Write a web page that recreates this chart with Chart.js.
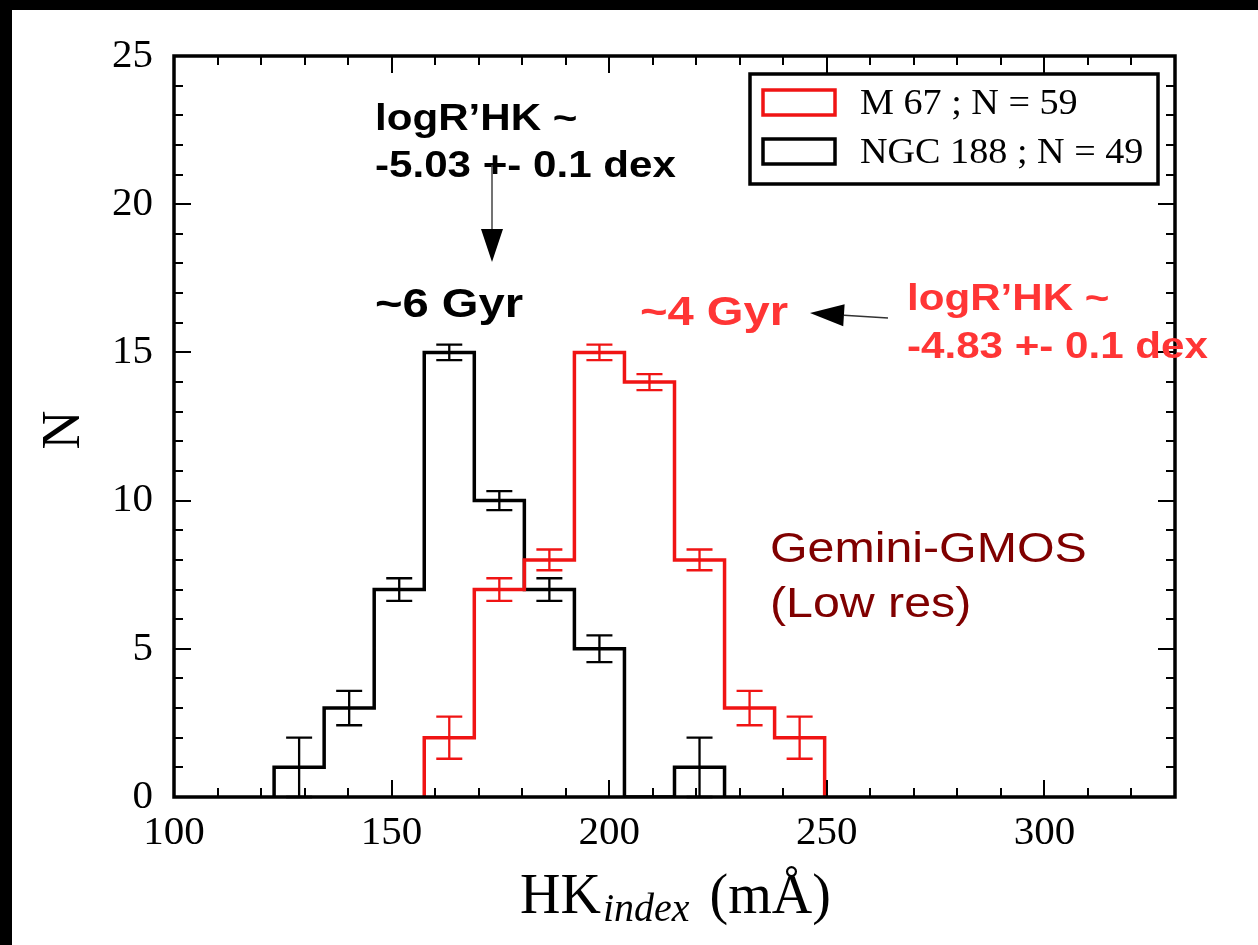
<!DOCTYPE html>
<html>
<head>
<meta charset="utf-8">
<script src="https://cdn.jsdelivr.net/npm/chart.js@4.4.1/dist/chart.umd.min.js"></script>
<style>
  html, body { margin: 0; padding: 0; background: #000; width: 1258px; height: 945px; overflow: hidden; }
  #panel { position: absolute; left: 12px; top: 10px; width: 1246px; height: 935px; background: #fff; }
  canvas { display: block; }
</style>
</head>
<body>
<div id="panel"><canvas id="hk" width="1246" height="935"></canvas></div>
<script>
// HK index histogram bins (mÅ): shared bin edges
const binEdges = [123.0, 134.5, 146.0, 157.5, 169.0, 180.5, 192.0, 203.5, 215.0, 226.5, 238.0, 249.5];

// M 67 : bins start at binEdges[3]
const m67Label = 'M 67 ; N = 59';
const m67FirstBin = 3;
const m67Counts = [2, 7, 8, 15, 14, 8, 3, 2];
const m67Errors = [0.71, 0.38, 0.35, 0.26, 0.27, 0.35, 0.58, 0.71];

// NGC 188 : bins start at binEdges[0]
const ngcLabel = 'NGC 188 ; N = 49';
const ngcFirstBin = 0;
const ngcCounts = [1, 3, 7, 15, 10, 7, 5, 0, 1];
const ngcErrors = [1.0, 0.58, 0.38, 0.26, 0.32, 0.38, 0.45, 0, 1.0];

// axes
const xMin = 100, xMax = 330;
const yMin = 0, yMax = 25;
const xTickValues = [100, 150, 200, 250, 300];
const yTickValues = [0, 5, 10, 15, 20, 25];

const RED = '#f01414';
const NOTE_RED = '#ff3535';
const DARK_RED = '#800000';
const SERIF = '"Liberation Serif", "Times New Roman", serif';
const SANS = '"Liberation Sans", Arial, sans-serif';

// outline of a histogram: rises at the first edge, steps across every bin, drops at the last edge
function histOutline(edges, counts) {
  const pts = [{ x: edges[0], y: 0 }];
  counts.forEach((c, i) => {
    pts.push({ x: edges[i], y: c });
    pts.push({ x: edges[i + 1], y: c });
  });
  pts.push({ x: edges[counts.length], y: 0 });
  return pts;
}

const m67Edges = binEdges.slice(m67FirstBin, m67FirstBin + m67Counts.length + 1);
const ngcEdges = binEdges.slice(ngcFirstBin, ngcFirstBin + ngcCounts.length + 1);

// Poisson-style error bars at bin centres
const errorBars = {
  id: 'errorBars',
  afterDatasetsDraw(chart) {
    const { ctx, scales: { x, y } } = chart;
    chart.data.datasets.forEach(ds => {
      const e = ds.binInfo;
      ctx.save();
      ctx.strokeStyle = ds.borderColor;
      ctx.lineWidth = 2.3;
      e.counts.forEach((c, i) => {
        if (!c || !e.errors[i]) return;
        const cx = x.getPixelForValue((e.edges[i] + e.edges[i + 1]) / 2);
        const y1 = y.getPixelForValue(c - e.errors[i]);
        const y2 = y.getPixelForValue(c + e.errors[i]);
        const hw = 13;
        ctx.beginPath();
        ctx.moveTo(cx, y1); ctx.lineTo(cx, y2);
        ctx.moveTo(cx - hw, y1); ctx.lineTo(cx + hw, y1);
        ctx.moveTo(cx - hw, y2); ctx.lineTo(cx + hw, y2);
        ctx.stroke();
      });
      ctx.restore();
    });
  }
};

// boxed frame with inward major/minor ticks on all four sides
const frame = {
  id: 'frame',
  afterDatasetsDraw(chart) {
    const { ctx, chartArea: a, scales: { x, y } } = chart;
    ctx.save();
    ctx.strokeStyle = '#000';
    ctx.lineWidth = 2;
    ctx.beginPath();
    for (let v = xMin; v <= xMax; v += 10) {
      const px = Math.round(x.getPixelForValue(v));
      const len = v % 50 === 0 ? 17 : 9;
      ctx.moveTo(px, a.bottom); ctx.lineTo(px, a.bottom - len);
      ctx.moveTo(px, a.top); ctx.lineTo(px, a.top + len);
    }
    for (let v = yMin; v <= yMax; v += 1) {
      const py = Math.round(y.getPixelForValue(v));
      const len = v % 5 === 0 ? 17 : 9;
      ctx.moveTo(a.left, py); ctx.lineTo(a.left + len, py);
      ctx.moveTo(a.right, py); ctx.lineTo(a.right - len, py);
    }
    ctx.stroke();
    ctx.lineWidth = 3.5;
    ctx.strokeRect(a.left, a.top, a.right - a.left, a.bottom - a.top);
    ctx.restore();
  }
};

function wideText(ctx, text, x, y, font, color, sx) {
  ctx.save();
  ctx.font = font;
  ctx.fillStyle = color;
  ctx.textBaseline = 'alphabetic';
  ctx.textAlign = 'left';
  ctx.translate(x, y);
  ctx.scale(sx, 1);
  ctx.fillText(text, 0, 0);
  ctx.restore();
}

function arrow(ctx, x1, y1, x2, y2, headLen, headW, color, lw) {
  const ang = Math.atan2(y2 - y1, x2 - x1);
  const bx = x2 - headLen * Math.cos(ang), by = y2 - headLen * Math.sin(ang);
  ctx.save();
  ctx.strokeStyle = color;
  ctx.fillStyle = '#000';
  ctx.lineWidth = lw;
  ctx.beginPath();
  ctx.moveTo(x1, y1); ctx.lineTo(bx, by);
  ctx.stroke();
  const nx = -Math.sin(ang) * headW / 2, ny = Math.cos(ang) * headW / 2;
  ctx.beginPath();
  ctx.moveTo(x2, y2);
  ctx.lineTo(bx + nx, by + ny);
  ctx.lineTo(bx - nx, by - ny);
  ctx.closePath();
  ctx.fill();
  ctx.restore();
}

// legend, axis titles and annotations
const decorations = {
  id: 'decorations',
  afterDraw(chart) {
    const { ctx } = chart;

    // legend box
    ctx.save();
    ctx.fillStyle = '#fff';
    ctx.fillRect(738, 64, 408, 110);
    ctx.strokeStyle = '#000';
    ctx.lineWidth = 3.5;
    ctx.strokeRect(738, 64, 408, 110);
    const rows = [
      { ds: chart.data.datasets[0], top: 80, base: 104 },
      { ds: chart.data.datasets[1], top: 129, base: 153 }
    ];
    rows.forEach(r => {
      ctx.strokeStyle = r.ds.borderColor;
      ctx.lineWidth = 3.5;
      ctx.strokeRect(751, r.top, 72, 25);
      wideText(ctx, r.ds.label, 848, r.base, '36px ' + SERIF, '#000', 1.06);
    });
    ctx.restore();

    // y title
    ctx.save();
    ctx.translate(53, 420);
    ctx.rotate(-Math.PI / 2);
    ctx.font = '54px ' + SERIF;
    ctx.fillStyle = '#000';
    ctx.textAlign = 'center';
    ctx.textBaseline = 'middle';
    ctx.fillText('N', 0, 0);
    ctx.restore();

    // x title: HK with italic subscript "index", then (mÅ)
    ctx.save();
    ctx.fillStyle = '#000';
    ctx.textBaseline = 'alphabetic';
    let tx = 508;
    ctx.font = '56px ' + SERIF;
    ctx.fillText('HK', tx, 903);
    tx += ctx.measureText('HK').width + 2;
    ctx.font = 'italic 40px ' + SERIF;
    ctx.fillText('index', tx, 911);
    tx += ctx.measureText('index').width + 20;
    ctx.font = '56px ' + SERIF;
    ctx.fillText('(mÅ)', tx, 903);
    ctx.restore();

    // NGC 188 note
    const bold36 = 'bold 36px ' + SANS;
    const bold41 = 'bold 41px ' + SANS;
    wideText(ctx, 'logR’HK ~', 363, 120, bold36, '#000', 1.17);
    wideText(ctx, '-5.03 +- 0.1 dex', 363, 167, bold36, '#000', 1.17);
    arrow(ctx, 480, 155, 480, 252, 33, 22, '#444', 1.5);
    wideText(ctx, '~6 Gyr', 363, 307, bold41, '#000', 1.15);

    // M 67 note
    wideText(ctx, '~4 Gyr', 628, 315, bold41, NOTE_RED, 1.15);
    arrow(ctx, 876, 308, 798, 303, 34, 22, '#333', 1.5);
    wideText(ctx, 'logR’HK ~', 895, 300, bold36, NOTE_RED, 1.17);
    wideText(ctx, '-4.83 +- 0.1 dex', 895, 348, bold36, NOTE_RED, 1.17);

    // instrument note
    wideText(ctx, 'Gemini-GMOS', 758, 552, '42px ' + SANS, DARK_RED, 1.15);
    wideText(ctx, '(Low res)', 758, 607, '42px ' + SANS, DARK_RED, 1.15);
  }
};

new Chart(document.getElementById('hk'), {
  type: 'line',
  data: {
    datasets: [
      {
        label: m67Label,
        data: histOutline(m67Edges, m67Counts),
        binInfo: { edges: m67Edges, counts: m67Counts, errors: m67Errors },
        borderColor: RED,
        borderWidth: 3.5,
        pointRadius: 0,
        fill: false,
        tension: 0,
        borderJoinStyle: 'miter'
      },
      {
        label: ngcLabel,
        data: histOutline(ngcEdges, ngcCounts),
        binInfo: { edges: ngcEdges, counts: ngcCounts, errors: ngcErrors },
        borderColor: '#000',
        borderWidth: 3.5,
        pointRadius: 0,
        fill: false,
        tension: 0,
        borderJoinStyle: 'miter'
      }
    ]
  },
  options: {
    responsive: false,
    animation: false,
    devicePixelRatio: 1,
    layout: { padding: { left: 0, right: 83, top: 46, bottom: 0 } },
    scales: {
      x: {
        type: 'linear',
        min: xMin,
        max: xMax,
        afterFit(s) { s.height = 148; },
        afterBuildTicks(s) { s.ticks = xTickValues.map(v => ({ value: v })); },
        grid: { display: false, drawTicks: false },
        border: { display: false },
        ticks: {
          font: { family: SERIF, size: 41 },
          color: '#000',
          padding: 12,
          maxRotation: 0,
          autoSkip: false
        }
      },
      y: {
        type: 'linear',
        min: yMin,
        max: yMax,
        afterFit(s) { s.width = 162; },
        afterBuildTicks(s) { s.ticks = yTickValues.map(v => ({ value: v })); },
        grid: { display: false, drawTicks: false },
        border: { display: false },
        ticks: {
          font: { family: SERIF, size: 41 },
          color: '#000',
          padding: 21
        }
      }
    },
    plugins: {
      legend: { display: false },
      tooltip: { enabled: false }
    }
  },
  plugins: [errorBars, frame, decorations]
});
</script>
</body>
</html>
